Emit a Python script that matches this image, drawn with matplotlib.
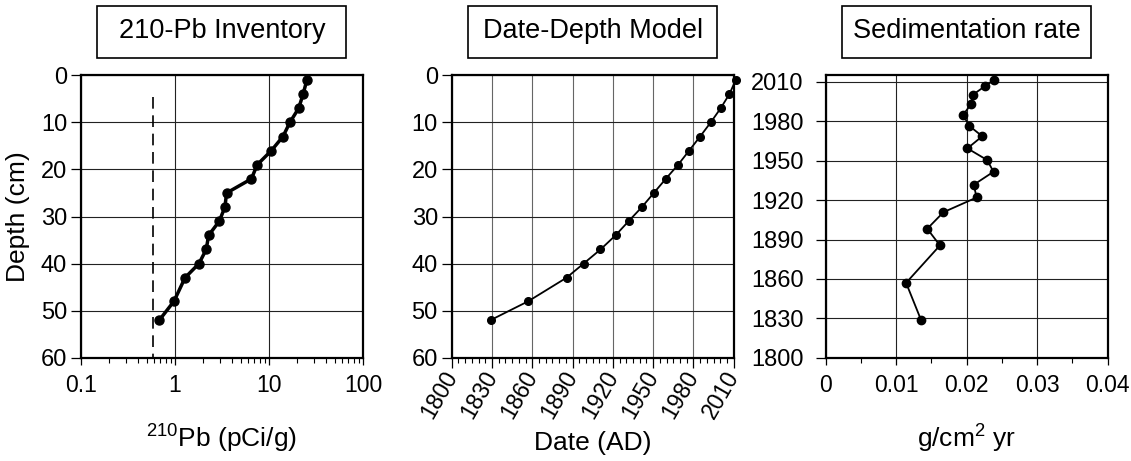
import matplotlib
matplotlib.use("Agg")
import matplotlib.pyplot as plt
from matplotlib.patches import Rectangle
from matplotlib.ticker import MultipleLocator, LogLocator, NullFormatter

plt.rcParams['font.family'] = ['Liberation Sans', 'DejaVu Sans']
plt.rcParams['mathtext.fontset'] = 'custom'
plt.rcParams['mathtext.rm'] = 'Liberation Sans'
plt.rcParams['mathtext.default'] = 'regular'

# core sample depths (cm)
depth = [1, 4, 7, 10, 13, 16, 19, 22, 25, 28, 31, 34, 37, 40, 43, 48, 52]
# total 210Pb activity (pCi/g)
pb210 = [25.3, 23.1, 20.7, 16.7, 14.1, 10.6, 7.5, 6.5, 3.54, 3.40, 2.96,
         2.28, 2.15, 1.80, 1.28, 0.976, 0.682]
# supported 210Pb level and the depth range it is drawn over
supported = 0.58
supported_depth = [4.5, 60]
# modelled dates (AD) for each depth
dates = [2011.5, 2006.8, 2000.3, 1992.9, 1985.0, 1976.8, 1968.6, 1959.4,
         1950.5, 1941.6, 1931.7, 1922.0, 1910.8, 1898.2, 1885.5, 1857.0, 1829.0]
# mass sedimentation rate (g/cm2 yr)
sed_rate = [0.0239, 0.0226, 0.0209, 0.0206, 0.0195, 0.0203, 0.0222, 0.0201,
            0.0229, 0.0238, 0.0210, 0.0214, 0.0167, 0.0144, 0.0162, 0.0114, 0.0135]

titles = ["210-Pb Inventory", "Date-Depth Model", "Sedimentation rate"]
pb_ticks = [0.1, 1, 10, 100]
pb_labels = ['0.1', '1', '10', '100']
year_ticks = [1800, 1830, 1860, 1890, 1920, 1950, 1980, 2010]
rate_ticks = [0, 0.01, 0.02, 0.03, 0.04]
rate_labels = ['0', '0.01', '0.02', '0.03', '0.04']
depth_ticks = [0, 10, 20, 30, 40, 50, 60]

fig = plt.figure(figsize=(11.31, 4.61), dpi=100)
bottom, height, width = 0.224, 0.6126, 0.2493
ax1 = fig.add_axes([0.0716, bottom, width, height])
ax2 = fig.add_axes([0.3994, bottom, width, height])
ax3 = fig.add_axes([0.7301, bottom, width, height])

grid_kw = dict(color='#222222', linewidth=0.8)

for ax, title in zip([ax1, ax2, ax3], titles):
    for sp in ax.spines.values():
        sp.set_linewidth(1.6)
    ax.set_axisbelow(True)
    ax.tick_params(axis='y', which='major', direction='out', length=7, width=0.9,
                   pad=3, labelsize=17)
    ax.tick_params(axis='x', which='major', direction='out', length=5, width=0.9,
                   pad=7, labelsize=16.5)
    ax.tick_params(axis='x', which='minor', direction='out', length=3.5, width=0.8)
    # boxed panel title
    box = Rectangle((0.0585, 1.063), 0.883, 0.184, transform=ax.transAxes,
                    facecolor='white', edgecolor='black', linewidth=1.2, clip_on=False)
    ax.add_patch(box)
    ax.text(0.5, 1.157, title, transform=ax.transAxes, ha='center', va='center',
            fontsize=19.5)

# 210Pb activity profile
ax1.set_xscale('log')
ax1.set_xlim(0.1, 100)
ax1.set_ylim(60, 0)
ax1.set_xticks(pb_ticks)
ax1.set_xticklabels(pb_labels)
ax1.xaxis.set_minor_locator(LogLocator(base=10, subs=range(2, 10)))
ax1.xaxis.set_minor_formatter(NullFormatter())
ax1.set_yticks(depth_ticks)
ax1.grid(True, which='major', **grid_kw)
ax1.plot(pb210, depth, '-o', color='black', linewidth=2.5, markersize=6.5, clip_on=False)
ax1.vlines(supported, supported_depth[0], supported_depth[1], colors='black',
           linestyles=(0, (7, 4)), linewidth=1.2)
ax1.set_ylabel('Depth (cm)', fontsize=19, va='center')
ax1.yaxis.set_label_coords(-0.223, 0.5)
ax1.set_xlabel(r'$^{210}$Pb (pCi/g)', fontsize=19, va='baseline')
ax1.xaxis.set_label_coords(0.5, -0.318)

# date-depth model
ax2.set_xlim(1800, 2010)
ax2.set_ylim(60, 0)
ax2.set_xticks(year_ticks)
ax2.xaxis.set_minor_locator(MultipleLocator(5))
ax2.set_yticks(depth_ticks)
ax2.grid(True, axis='y', **grid_kw)
ax2.grid(True, axis='x', which='major', color='#666666', linewidth=0.8)
ax2.tick_params(axis='x', which='major', length=7, pad=4)
ax2.plot(dates, depth, '-o', color='black', linewidth=1.3, markersize=5.5, clip_on=False)
plt.setp(ax2.get_xticklabels(), rotation=60, ha='right', va='center',
         rotation_mode='anchor')
ax2.set_xlabel('Date (AD)', fontsize=19, va='baseline')
ax2.xaxis.set_label_coords(0.5, -0.327)

# sedimentation rate through time
ax3.set_xlim(0, 0.04)
ax3.set_ylim(1800, 2015)
ax3.set_xticks(rate_ticks)
ax3.set_xticklabels(rate_labels)
ax3.xaxis.set_minor_locator(MultipleLocator(0.005))
ax3.set_yticks(year_ticks)
ax3.grid(True, which='major', **grid_kw)
ax3.tick_params(axis='y', which='major', pad=9)
ax3.plot(sed_rate, dates, '-o', color='black', linewidth=1.3, markersize=6, clip_on=False)
ax3.set_xlabel(r'g/cm$^2$ yr', fontsize=19, va='baseline')
ax3.xaxis.set_label_coords(0.5, -0.318)

fig.savefig('out.png', dpi=100)
